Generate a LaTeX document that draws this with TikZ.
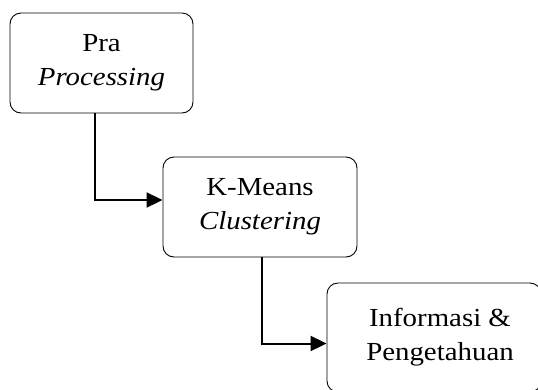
\documentclass[tikz,border=0pt]{standalone}
\usepackage{fontspec}
\setmainfont{Liberation Serif}[FakeStretch=1.11]
\usetikzlibrary{arrows.meta}
\begin{document}
\begin{tikzpicture}[x=1pt,y=-1pt,
  stepbox/.style={draw=black,line width=0.9pt,rounded corners=11pt,
    align=center,font=\fontsize{26}{34}\selectfont,inner sep=0pt},
  flow/.style={line width=2pt,-{Triangle[length=16pt,width=15pt]}}]
\useasboundingbox (0,0) rectangle (538,389);
\clip (0,0) rectangle (538,389);
\node[stepbox,minimum width=183pt,minimum height=100pt] (a) at (101.5,63) {Pra\\\textit{Processing}};
\node[stepbox,minimum width=194pt,minimum height=100pt] (b) at (260,207) {K-Means\\\textit{Clustering}};
\node[stepbox,minimum width=214pt,minimum height=109pt] (c) at (434,337.5) {\hspace*{12pt}Informasi \&\\\hspace*{12pt}Pengetahuan};
\draw[flow] ([xshift=-6.5pt]a.south) |- ([yshift=7pt]b.west);
\draw[flow] ([xshift=2pt]b.south) |- ([yshift=-6pt]c.west);
\end{tikzpicture}
\end{document}
